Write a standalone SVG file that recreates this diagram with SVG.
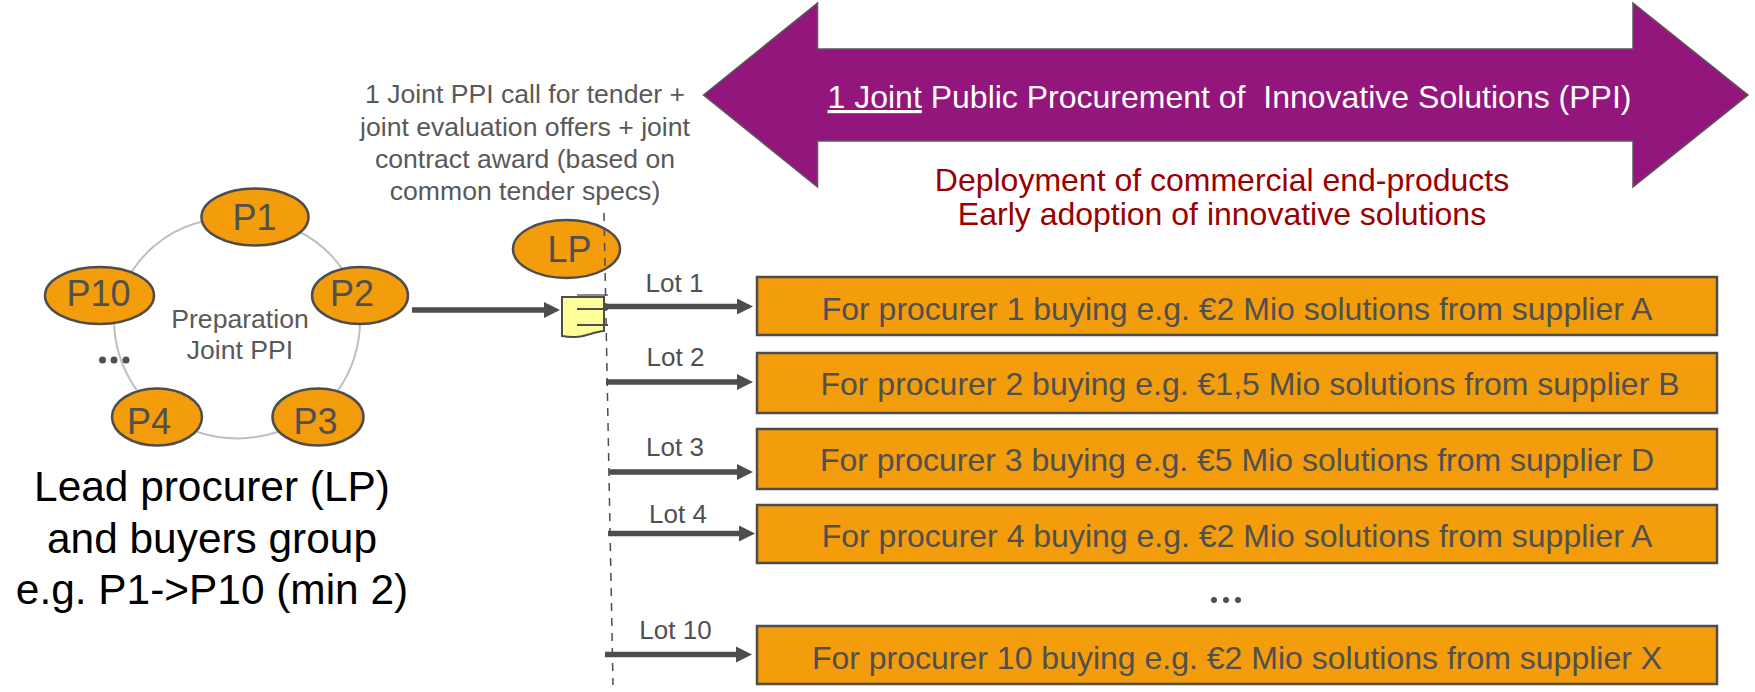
<svg xmlns="http://www.w3.org/2000/svg" width="1755" height="692" viewBox="0 0 1755 692">
<style>
text{font-family:"Liberation Sans",Arial,sans-serif;fill:#505050;text-anchor:middle}
.n{fill:#f39c0c;stroke:#4d4d4d;stroke-width:2.5}
.p{font-size:36px}
.b{font-size:32px}
.l{font-size:26px}
.s{font-size:26.6px;fill:#595959}
.r{font-size:32px;fill:#990000}
.k{font-size:42.4px;fill:#000}
.w{font-size:32px;fill:#fff;white-space:pre}
.c{stroke:#4d4d4d;stroke-width:5.5;fill:none;marker-end:url(#a)}
</style>
<defs><marker id="a" markerUnits="userSpaceOnUse" markerWidth="16" markerHeight="18" refX="4" refY="8" orient="auto"><path d="M0 0L16 8L0 16Z" fill="#4d4d4d"/></marker></defs>
<rect width="1755" height="692" fill="#fff"/>
<path id="ring" d="M131.700 271.700A115 115 0 0 1 205 221M298 231A115 115 0 0 1 341.700 268.300M360 320A123 123 0 0 1 338.300 390M278.300 431.700A130 130 0 0 1 196.700 431.700M136.700 390A123 123 0 0 1 114 320" fill="none" stroke="#bfbfbf" stroke-width="2"/>
<g id="banner"><path d="M703.500 95L817.500 3V49H1633V3L1748 95L1633 187V141H817.500V187Z" fill="#93167c" stroke="#595959" stroke-width="1.500"/>
<text class="w" x="1229.500" y="108"><tspan text-decoration="underline">1 Joint</tspan> Public Procurement of  Innovative Solutions (PPI)</text></g>
<text class="r" x="1222" y="190.500">Deployment of commercial end-products</text>
<text class="r" x="1222" y="225">Early adoption of innovative solutions</text>
<g id="call"><text class="s" x="525" y="102.500">1 Joint PPI call for tender +</text><text class="s" x="525" y="135.500">joint evaluation offers + joint</text><text class="s" x="525" y="167.500">contract award (based on</text><text class="s" x="525" y="199.500">common tender specs)</text></g>
<g id="P1"><ellipse class="n" cx="255" cy="217" rx="53.500" ry="28.500"/><text class="p" x="254.500" y="230">P1</text></g>
<g id="P2"><ellipse class="n" cx="360" cy="295.500" rx="48" ry="28.500"/><text class="p" x="352" y="306">P2</text></g>
<g id="P10"><ellipse class="n" cx="99.500" cy="295.500" rx="54.500" ry="28.500"/><text class="p" x="98.500" y="306">P10</text></g>
<g id="P4"><ellipse class="n" cx="157" cy="417" rx="45" ry="28.500"/><text class="p" x="149" y="434">P4</text></g>
<g id="P3"><ellipse class="n" cx="318" cy="417" rx="45.500" ry="28.500"/><text class="p" x="315.500" y="434">P3</text></g>
<text class="s" x="240" y="328">Preparation</text><text class="s" x="240" y="359">Joint PPI</text>
<g fill="#505050"><circle cx="102.500" cy="360" r="3.500"/><circle cx="114" cy="360" r="3.500"/><circle cx="126" cy="360" r="3.500"/></g>
<g fill="#505050"><circle cx="1214" cy="600" r="3"/><circle cx="1226" cy="600" r="3"/><circle cx="1238" cy="600" r="3"/></g>
<g id="LP"><ellipse class="n" cx="566.500" cy="249" rx="53.500" ry="29"/><text class="p" x="569.500" y="261.500">LP</text></g>
<g id="doc"><path d="M577 295H608" stroke="#8c8c8c" stroke-width="2"/><path d="M562 297H604V331C590 332 582 340 562 336Z" fill="#ffff99" stroke="#4d4d4d" stroke-width="2"/><path d="M577 309H608M577 325H608" stroke="#4d4d4d" stroke-width="2"/></g>
<g id="connectors"><path d="M604 213L613 685" stroke="#4d4d4d" stroke-width="1.500" stroke-dasharray="8 7" fill="none"/>
<path class="c" d="M412 310H548"/><path class="c" d="M606 306.500H741"/><path class="c" d="M606 382H741"/><path class="c" d="M609 472H741"/><path class="c" d="M608 533.500H743"/><path class="c" d="M605 654.500H740"/></g>
<text class="l" x="674.500" y="292">Lot 1</text><text class="l" x="675.500" y="365.500">Lot 2</text><text class="l" x="675" y="456">Lot 3</text><text class="l" x="678" y="523">Lot 4</text><text class="l" x="675.500" y="639">Lot 10</text>
<g id="box1"><rect class="n" x="757" y="277" width="960" height="58"/><text class="b" x="1237" y="319.500">For procurer 1 buying e.g. €2 Mio solutions from supplier A</text></g>
<g id="box2"><rect class="n" x="757" y="353" width="960" height="60"/><text class="b" x="1250" y="395">For procurer 2 buying e.g. €1,5 Mio solutions from supplier B</text></g>
<g id="box3"><rect class="n" x="757" y="429" width="960" height="60"/><text class="b" x="1237" y="471">For procurer 3 buying e.g. €5 Mio solutions from supplier D</text></g>
<g id="box4"><rect class="n" x="757" y="505" width="960" height="58"/><text class="b" x="1237" y="547">For procurer 4 buying e.g. €2 Mio solutions from supplier A</text></g>
<g id="box10"><rect class="n" x="757" y="626" width="960" height="58"/><text class="b" x="1237" y="668.500">For procurer 10 buying e.g. €2 Mio solutions from supplier X</text></g>
<g id="caption"><text class="k" x="212" y="500.500">Lead procurer (LP)</text><text class="k" x="212" y="552.500">and buyers group</text><text class="k" x="212" y="603.500">e.g. P1-&gt;P10 (min 2)</text></g>
</svg>
